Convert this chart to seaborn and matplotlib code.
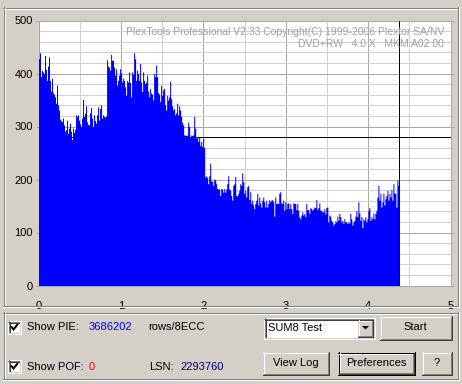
import numpy as np
import pandas as pd
import seaborn as sns
import matplotlib
matplotlib.use("Agg")
import matplotlib.pyplot as plt
from matplotlib.lines import Line2D
from matplotlib.patches import Rectangle, Polygon

# ---------------- data ----------------
pie_values = [
    428, 439, 394, 406, 403, 400, 434, 408, 387, 414,
    431, 387, 367, 391, 364, 361, 356, 344, 378, 341,
    331, 314, 311, 309, 316, 303, 291, 294, 312, 287,
    297, 306, 291, 275, 297, 289, 295, 322, 319, 322,
    312, 305, 300, 316, 351, 319, 325, 339, 309, 304,
    303, 326, 336, 316, 300, 322, 311, 306, 322, 337,
    312, 334, 341, 316, 322, 319, 318, 320, 426, 414,
    412, 406, 436, 425, 425, 412, 397, 409, 378, 387,
    397, 409, 401, 384, 391, 387, 375, 359, 387, 384,
    403, 383, 356, 403, 399, 439, 428, 387, 406, 400,
    387, 419, 384, 366, 403, 387, 381, 384, 397, 367,
    356, 372, 363, 361, 350, 400, 394, 416, 394, 364,
    361, 347, 378, 359, 369, 372, 341, 331, 359, 350,
    356, 386, 353, 339, 331, 334, 322, 326, 344, 322,
    339, 331, 319, 308, 303, 284, 284, 283, 284, 308,
    300, 280, 284, 283, 284, 319, 297, 278, 281, 272,
    281, 264, 272, 262, 278,
    260, 205, 207, 204, 192, 207, 231, 197, 197, 189,
    201, 199, 192, 183, 182, 182, 170, 183, 182, 176,
    183, 176, 182, 192, 207, 182, 180,
    170, 161, 189, 192, 206, 170, 169, 174, 180, 192,
    189, 213, 196, 174, 180, 167, 186, 189, 162, 177,
    155, 161, 152, 145, 155, 161, 174, 152, 167, 156,
    148, 161, 167, 158, 148, 161, 148, 155, 162, 158,
    161, 162, 158, 131, 167, 155, 155, 155, 174, 177,
    156, 155, 161, 142, 158, 145, 155, 156, 145, 155,
    145, 136, 156, 155, 155, 143, 155, 142, 130, 126,
    133, 139, 133, 136, 130, 155, 143, 143, 136, 147,
    145, 142, 145, 148, 147, 162, 143, 147, 156, 142,
    142, 139, 139, 145, 135, 147, 148, 120, 133, 131,
    123, 120, 114, 117, 122, 120, 131, 123, 136, 130,
    120, 123, 117, 126, 120, 120, 117, 120, 118, 136,
    126, 114, 120, 123, 131, 141, 130, 158, 137, 123,
    130, 109, 126, 123, 130, 120, 126, 142, 147, 123,
    130, 126, 137, 126, 136, 142, 167, 189, 161, 174,
    148, 158, 174, 152, 164, 170, 180, 161, 174, 167,
    181, 161, 192, 175, 174, 148, 199, 189,
]
scan_start_gb = 0.0
scan_end_gb = 4.374
x_ticks = [0, 1, 2, 3, 4, 5]
y_ticks = [0, 100, 200, 300, 400, 500]
cursor_x = 4.38
cursor_y = 280
banner_line1 = "PlexTools Professional V2.33 Copyright(C) 1999-2006 Plextor SA/NV"
banner_line2 = "DVD+RW   4.0 X   MKM A02 00"
pie_total = "3686202"
pof_total = "0"
lsn_value = "2293760"
test_name = "SUM8 Test"

# ---------------- figure ----------------
W, H = 462, 384
FACE = "#D4D0C8"
sns.set_theme(style="white")
plt.rcParams["font.family"] = ["Liberation Sans", "DejaVu Sans"]
fig = plt.figure(figsize=(W / 100, H / 100), dpi=100)
fig.patch.set_facecolor(FACE)

def fx(x):
    return x / W

def fy(y):
    return 1 - y / H

PX = 0.72  # one pixel in points

def hline(x0, x1, y, color):
    fig.add_artist(Line2D([fx(x0), fx(x1 + 1)], [fy(y + 0.5)] * 2, color=color,
                          lw=PX, solid_capstyle="butt", antialiased=False))

def vline(x, y0, y1, color):
    fig.add_artist(Line2D([fx(x + 0.5)] * 2, [fy(y0), fy(y1 + 1)], color=color,
                          lw=PX, solid_capstyle="butt", antialiased=False))

def fill(x0, y0, x1, y1, color):
    fig.add_artist(Rectangle((fx(x0), fy(y1 + 1)), (x1 - x0 + 1) / W, (y1 - y0 + 1) / H,
                             facecolor=color, edgecolor="none", antialiased=False))

def raised(x0, y0, x1, y1, default=False):
    if default:
        hline(x0, x1, y0, "black"); hline(x0, x1, y1, "black")
        vline(x0, y0, y1, "black"); vline(x1, y0, y1, "black")
        x0 += 1; y0 += 1; x1 -= 1; y1 -= 1
    fill(x0, y0, x1, y1, FACE)
    hline(x0, x1 - 1, y0, "white"); vline(x0, y0, y1 - 1, "white")
    hline(x0, x1, y1, "#404040"); vline(x1, y0, y1, "#404040")
    hline(x0 + 1, x1 - 1, y1 - 1, "#808080"); vline(x1 - 1, y0 + 1, y1 - 1, "#808080")

def sunken(x0, y0, x1, y1, face="white"):
    fill(x0, y0, x1, y1, face)
    hline(x0, x1 - 1, y0, "#808080"); vline(x0, y0, y1 - 1, "#808080")
    hline(x0 + 1, x1 - 2, y0 + 1, "#404040"); vline(x0 + 1, y0 + 1, y1 - 2, "#404040")
    hline(x0, x1, y1, "white"); vline(x1, y0, y1, "white")
    hline(x0 + 1, x1 - 1, y1 - 1, FACE); vline(x1 - 1, y0 + 1, y1 - 1, FACE)

def etched(x0, y0, x1, y1):
    hline(x0, x1 - 1, y0, "#808080"); vline(x0, y0, y1 - 1, "#808080")
    hline(x0, x1 - 1, y1 - 1, "#808080"); vline(x1 - 1, y0, y1 - 1, "#808080")
    hline(x0 + 1, x1 - 2, y0 + 1, "white"); vline(x0 + 1, y0 + 1, y1 - 2, "white")
    hline(x0, x1, y1, "white"); vline(x1, y0, y1, "white")

def label(x, y, s, color="black", ha="left", size=8):
    fig.text(fx(x), fy(y), s, color=color, ha=ha, va="center", fontsize=size)

# frame around graph panel
etched(3, 7, 458, 306)

# ---------------- chart ----------------
ax = fig.add_axes([fx(38.5), fy(285.5), 412 / W, 265 / H])
ax.set_facecolor("white")

n = len(pie_values)
edges = np.linspace(scan_start_gb, scan_end_gb, n + 1)
df = pd.DataFrame({"position_gb": (edges[:-1] + edges[1:]) / 2, "pie": pie_values})
sns.histplot(data=df, x="position_gb", weights="pie", bins=n,
             binrange=(scan_start_gb, scan_end_gb), element="step", fill=True,
             color="#0000FF", alpha=1.0, linewidth=0, ax=ax, zorder=3)

ax.set_xlim(0, 5)
ax.set_ylim(0, 500)
ax.set_xticks(x_ticks)
ax.set_xticklabels([str(t) for t in x_ticks])
ax.set_yticks(y_ticks)
ax.set_yticklabels([str(t) for t in y_ticks])
ax.set_xticks(np.arange(0.5, 5, 1.0), minor=True)
ax.set_yticks([v for v in range(20, 500, 20) if v % 100], minor=True)
ax.grid(which="major", color="#A8A8A8", lw=PX, zorder=0)
ax.grid(which="minor", color="#D0D0D0", lw=PX, zorder=0)
ax.set_axisbelow(True)
ax.set_xlabel("")
ax.set_ylabel("")
for s in ax.spines.values():
    s.set_color("#A8A8A8")
    s.set_linewidth(PX)
ax.tick_params(axis="y", which="major", left=True, right=True, length=2.2,
               width=PX, color="#A8A8A8", labelsize=8, pad=1.8, labelcolor="black")
ax.tick_params(axis="y", which="minor", left=False, right=False)
ax.tick_params(axis="x", which="both", bottom=False, top=False, labelsize=8,
               pad=5.4, labelcolor="black")

ax.axhline(cursor_y, color="black", lw=PX, zorder=2)
ax.axvline(cursor_x, color="black", lw=PX, zorder=4)

label(444, 32, banner_line1, color="#A0A0A0", ha="right", size=7.5)
label(444, 44, banner_line2, color="#A0A0A0", ha="right", size=7.5)

# ---------------- control panel ----------------
etched(3, 312, 458, 379)

def checkbox(x0, y0):
    sunken(x0, y0, x0 + 12, y0 + 12)
    fig.add_artist(Line2D([fx(x0 + 3.5), fx(x0 + 5.5), fx(x0 + 9.5)],
                          [fy(y0 + 6), fy(y0 + 8.5), fy(y0 + 3.5)],
                          color="black", lw=2 * PX, solid_joinstyle="miter"))

checkbox(8, 321)
label(27, 327, "Show PIE:")
label(89, 327, pie_total, color="#0000FF")
label(148, 327, "rows/8ECC")

checkbox(8, 360)
label(27, 366.5, "Show POF:")
label(89, 366.5, pof_total, color="#FF0000")
label(149, 366.5, "LSN:")
label(180, 366.5, lsn_value, color="#000080")

# combo box
sunken(264, 318, 374, 338)
label(268, 328, test_name)
raised(358, 320, 372, 336)
fig.add_artist(Polygon([[fx(362), fy(326)], [fx(369), fy(326)], [fx(365.5), fy(329.5)]],
                       closed=True, facecolor="black", edgecolor="none"))

raised(380, 316, 451, 339)
label(415.5, 327.5, "Start", ha="center")
raised(263, 352, 328, 374)
label(295.5, 363, "View Log", ha="center")
raised(338, 352, 414, 374, default=True)
label(376, 363, "Preferences", ha="center")
raised(422, 352, 451, 374)
label(436.5, 363, "?", ha="center")

fig.savefig("out.png", dpi=100, facecolor=FACE)
